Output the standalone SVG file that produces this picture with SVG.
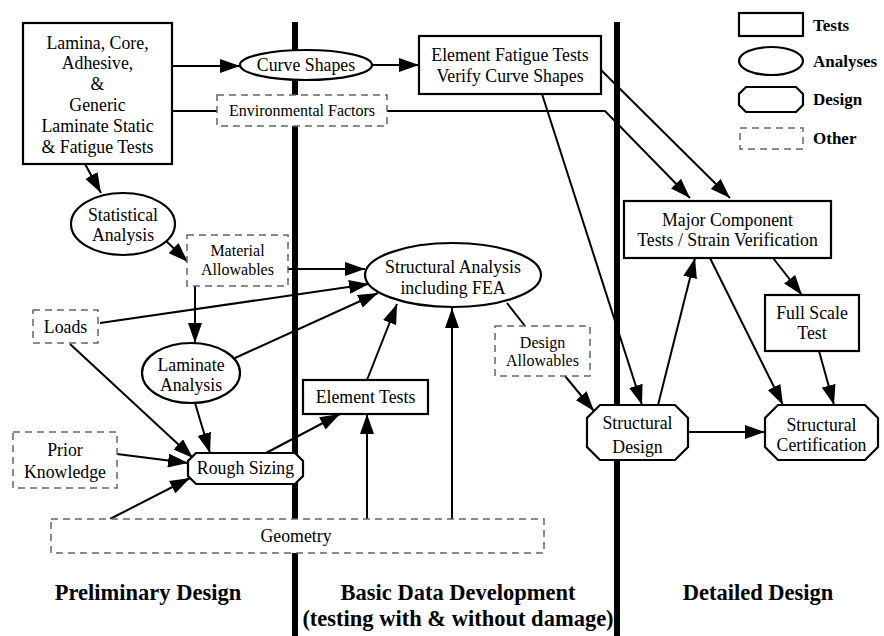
<svg xmlns="http://www.w3.org/2000/svg" width="884" height="636" viewBox="0 0 884 636">
  <defs>
    <marker id="arrow" markerUnits="userSpaceOnUse" markerWidth="22" markerHeight="14" refX="20" refY="7" orient="auto">
      <path d="M0,0 L20,7 L0,14 z" fill="#000"/>
    </marker>
    <style>
      .bar { fill: #000; }
      .test { fill: #fff; stroke: #000; stroke-width: 2.2; }
      .ana { fill: #fff; stroke: #000; stroke-width: 2.2; }
      .des { fill: #fff; stroke: #000; stroke-width: 2.2; }
      .oth { fill: #fff; stroke: #666; stroke-width: 1.5; stroke-dasharray: 7 5; }
      .edge { fill: none; stroke: #000; stroke-width: 2; }
      .arr { marker-end: url(#arrow); }
      text { font-family: "Liberation Serif", "Times New Roman", serif; fill: #000; text-anchor: middle; }
      .t17 { font-size: 17.8px; }
      .t16 { font-size: 16px; }
      .leg { font-size: 17px; font-weight: bold; text-anchor: start; }
      .phase { font-size: 22.5px; font-weight: bold; }
    </style>
  </defs>
  <rect width="884" height="636" fill="#fff"/>

  <!-- phase separators -->
  <g id="separators">
    <rect class="bar" x="292" y="22" width="6" height="614"/>
    <rect class="bar" x="614" y="22" width="6" height="614"/>
  </g>

  <!-- connectors -->
  <g id="connectors">
    <line class="edge arr" x1="172" y1="66" x2="240" y2="66"/>
    <line class="edge arr" x1="372" y1="65" x2="419" y2="65"/>
    <line class="edge" x1="172" y1="111" x2="217" y2="111"/>
    <polyline class="edge arr" points="387,111 605,111 690,198"/>
    <line class="edge arr" x1="601" y1="70" x2="730" y2="198"/>
    <line class="edge arr" x1="542" y1="94" x2="642" y2="405"/>
    <line class="edge arr" x1="85" y1="164" x2="101" y2="193"/>
    <line class="edge arr" x1="163" y1="238" x2="188" y2="262"/>
    <line class="edge arr" x1="288" y1="269" x2="365" y2="269"/>
    <line class="edge arr" x1="100" y1="323" x2="369" y2="284"/>
    <line class="edge arr" x1="195" y1="286" x2="195" y2="343"/>
    <line class="edge arr" x1="235" y1="358" x2="378" y2="293"/>
    <line class="edge arr" x1="70" y1="344" x2="193" y2="458"/>
    <line class="edge arr" x1="195" y1="403" x2="210" y2="453"/>
    <line class="edge arr" x1="117" y1="454" x2="188" y2="463"/>
    <line class="edge arr" x1="110" y1="519" x2="190" y2="478"/>
    <line class="edge arr" x1="266" y1="453" x2="340" y2="414"/>
    <line class="edge arr" x1="367" y1="519" x2="367" y2="414"/>
    <line class="edge arr" x1="367" y1="380" x2="397" y2="304"/>
    <line class="edge arr" x1="452" y1="519" x2="452" y2="308"/>
    <line class="edge" x1="507" y1="303" x2="525" y2="326"/>
    <line class="edge arr" x1="565" y1="376" x2="594" y2="411"/>
    <line class="edge arr" x1="658" y1="405" x2="695" y2="258"/>
    <line class="edge arr" x1="710" y1="258" x2="783" y2="405"/>
    <line class="edge arr" x1="773" y1="258" x2="802" y2="295"/>
    <line class="edge arr" x1="819" y1="351" x2="834" y2="405"/>
    <line class="edge arr" x1="688" y1="432" x2="765" y2="432"/>
  </g>

  <!-- nodes -->
  <g id="generic-tests">
    <rect class="test" x="23" y="23" width="149" height="141"/>
    <text class="t17" x="97.5" y="49">Lamina, Core,</text>
    <text class="t17" x="97.5" y="69">Adhesive,</text>
    <text class="t17" x="97.5" y="90">&amp;</text>
    <text class="t17" x="97.5" y="111">Generic</text>
    <text class="t17" x="97.5" y="132">Laminate Static</text>
    <text class="t17" x="97.5" y="153">&amp; Fatigue Tests</text>
  </g>

  <g id="curve-shapes">
    <ellipse class="ana" cx="306" cy="65" rx="66" ry="15"/>
    <text class="t17" x="306" y="71">Curve Shapes</text>
  </g>

  <g id="element-fatigue-tests">
    <rect class="test" x="419" y="36" width="182" height="58"/>
    <text class="t17" x="510" y="61">Element Fatigue Tests</text>
    <text class="t17" x="510" y="82">Verify Curve Shapes</text>
  </g>

  <g id="environmental-factors">
    <rect class="oth" x="217" y="95" width="170" height="31"/>
    <text class="t16" x="302" y="116">Environmental Factors</text>
  </g>

  <g id="statistical-analysis">
    <ellipse class="ana" cx="123" cy="224" rx="52" ry="31"/>
    <text class="t17" x="123" y="221">Statistical</text>
    <text class="t17" x="123" y="241">Analysis</text>
  </g>

  <g id="material-allowables">
    <rect class="oth" x="187" y="235" width="101" height="51"/>
    <text class="t16" x="237.5" y="256">Material</text>
    <text class="t16" x="237.5" y="275">Allowables</text>
  </g>

  <g id="loads">
    <rect class="oth" x="33" y="310" width="65" height="33"/>
    <text class="t17" x="65.5" y="333">Loads</text>
  </g>

  <g id="structural-analysis">
    <ellipse class="ana" cx="453" cy="275" rx="88" ry="32"/>
    <text class="t17" x="453" y="273">Structural Analysis</text>
    <text class="t17" x="453" y="294">including FEA</text>
  </g>

  <g id="laminate-analysis">
    <ellipse class="ana" cx="191" cy="373" rx="49" ry="30"/>
    <text class="t17" x="191" y="371">Laminate</text>
    <text class="t17" x="191" y="391">Analysis</text>
  </g>

  <g id="element-tests">
    <rect class="test" x="303" y="380" width="125" height="34"/>
    <text class="t17" x="365.5" y="403">Element Tests</text>
  </g>

  <g id="design-allowables">
    <rect class="oth" x="495" y="326" width="95" height="50"/>
    <text class="t16" x="542.5" y="348">Design</text>
    <text class="t16" x="542.5" y="366">Allowables</text>
  </g>

  <g id="prior-knowledge">
    <rect class="oth" x="13" y="432" width="104" height="56"/>
    <text class="t17" x="65" y="456">Prior</text>
    <text class="t17" x="65" y="478">Knowledge</text>
  </g>

  <g id="rough-sizing">
    <polygon class="des" points="196,453 295,453 303,461 303,476 295,484 196,484 188,476 188,461"/>
    <text class="t17" x="245.5" y="474">Rough Sizing</text>
  </g>

  <g id="geometry">
    <rect class="oth" x="51" y="519" width="493" height="34"/>
    <text class="t17" x="296" y="542">Geometry</text>
  </g>

  <g id="major-component-tests">
    <rect class="test" x="624" y="201" width="207" height="57"/>
    <text class="t17" x="727.5" y="226">Major Component</text>
    <text class="t17" x="727.5" y="246">Tests / Strain Verification</text>
  </g>

  <g id="full-scale-test">
    <rect class="test" x="765" y="295" width="94" height="56"/>
    <text class="t17" x="812" y="319">Full Scale</text>
    <text class="t17" x="812" y="339">Test</text>
  </g>

  <g id="structural-design">
    <polygon class="des" points="600,405 675,405 688,418 688,447 675,460 600,460 587,447 587,418"/>
    <text class="t17" x="637.5" y="429">Structural</text>
    <text class="t17" x="637.5" y="453">Design</text>
  </g>

  <g id="structural-certification">
    <polygon class="des" points="778,405 865,405 878,418 878,447 865,460 778,460 765,447 765,418"/>
    <text class="t17" x="821.5" y="431">Structural</text>
    <text class="t17" x="821.5" y="451">Certification</text>
  </g>

  <!-- legend -->
  <g id="legend">
    <rect class="test" x="739" y="13" width="64" height="23"/>
    <text class="leg" x="813" y="31">Tests</text>
    <ellipse class="ana" cx="771" cy="61" rx="32" ry="14"/>
    <text class="leg" x="813" y="67">Analyses</text>
    <polygon class="des" points="746,87 796,87 803,94 803,105 796,112 746,112 739,105 739,94"/>
    <text class="leg" x="813" y="105">Design</text>
    <rect class="oth" x="740" y="128" width="63" height="21"/>
    <text class="leg" x="813" y="144">Other</text>
  </g>

  <!-- phase labels -->
  <g id="phase-labels">
    <text class="phase" x="148" y="600">Preliminary Design</text>
    <text class="phase" x="458" y="600">Basic Data Development</text>
    <text class="phase" x="458" y="626">(testing with &amp; without damage)</text>
    <text class="phase" x="758" y="600">Detailed Design</text>
  </g>
</svg>
